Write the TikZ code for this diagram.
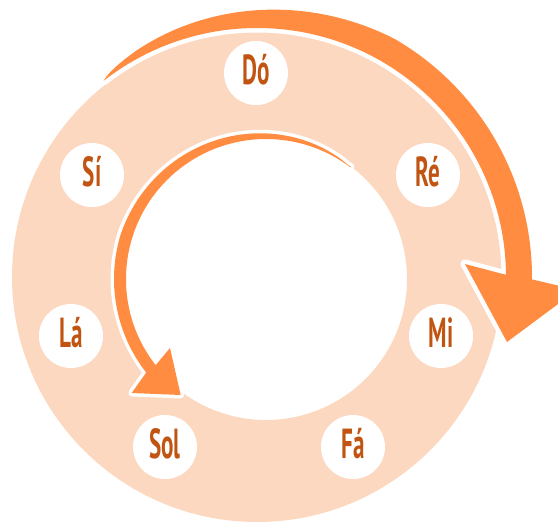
\documentclass[tikz,border=0pt]{standalone}
\usepackage{fontspec}
\newfontfamily\notefont[FakeStretch=0.55]{PT Sans Bold}
\definecolor{ringc}{RGB}{253,216,192}
\definecolor{arrowc}{RGB}{255,140,64}
\definecolor{txtc}{RGB}{192,84,16}
\tikzset{
  note/.style={circle, fill=white, minimum size=64pt, inner sep=0pt, text=txtc,
    font=\notefont\fontsize{42}{42}\selectfont, text height=29pt, text depth=5pt},
  outerarrow/.style={fill=arrowc, preaction={draw=white, line width=9pt, line join=round}},
  innerarrow/.style={fill=arrowc, preaction={draw=white, line width=7pt, line join=round}}
}
\begin{document}
\begin{tikzpicture}[x=1pt,y=1pt]
\useasboundingbox (0,0) rectangle (558,522);
\clip (0,0) rectangle (558,522);
\coordinate (oc) at (257,245);
\coordinate (ic) at (266,243);
% ring
\fill[ringc, even odd rule] (oc) circle[radius=245] (ic) circle[radius=141];
% notes
\node[note] (do)  at (256,449) {Dó};
\node[note] (re)  at (428,347) {Ré};
\node[note] (mi)  at (441,186) {Mi};
\node[note] (fa)  at (353,75)  {Fá};
\node[note] (sol) at (165,75)  {Sol};
\node[note] (la)  at (71,186)  {Lá};
\node[note] (si)  at (92,347)  {Sí};
% outer arrow
\fill[outerarrow] ([shift={(128:249)}]oc)
  -- plot[domain=127:-0.5, samples=90, variable=\t]
     ({257+(249+26*pow(min(1,max(0.001,(128-\t)/68)),0.65))*cos(\t)},
      {245+(249+26*pow(min(1,max(0.001,(128-\t)/68)),0.65))*sin(\t)})
  -- (577,232) coordinate (oR) -- (507,180) coordinate (oT) -- (465,258) coordinate (oL)
  -- ([shift={(0.5:249)}]oc) arc[start angle=0.5, end angle=128, radius=249] -- cycle;
% inner arrow
\fill[innerarrow] ([shift={(53:141)}]ic)
  -- plot[domain=54:218, samples=90, variable=\t]
     ({266+(140+12*pow(min(1,max(0.001,(\t-53)/110)),0.7))*cos(\t)},
      {243+(140+12*pow(min(1,max(0.001,(\t-53)/110)),0.7))*sin(\t)})
  -- (131.7,129) coordinate (iC) -- (180.7,127) coordinate (iT) -- (170,174) coordinate (iA)
  -- ([shift={(218:140)}]ic) arc[start angle=218, end angle=53, radius=140] -- cycle;
\end{tikzpicture}
\end{document}
